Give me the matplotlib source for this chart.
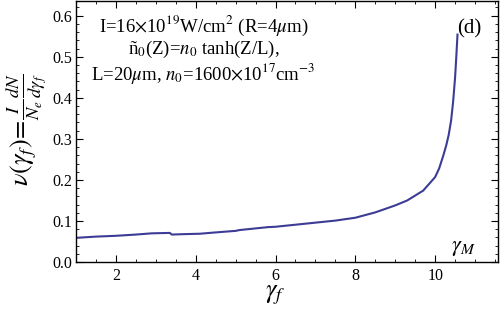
#!/usr/bin/env python3
"""
Electron energy spectrum nu(gamma_f), panel (d).
"""

import matplotlib.pyplot as plt
from matplotlib.ticker import MultipleLocator

# Curve
gamma_f = [1.0, 1.5, 2.0, 2.5, 2.9, 3.35, 3.4, 3.7, 4.1, 4.6, 5.0, 5.1,
           5.5, 5.8, 6.0, 6.6, 7.0, 7.5, 8.0, 8.5, 9.0, 9.3, 9.7, 10.0,
           10.1, 10.2, 10.28, 10.34, 10.4, 10.45, 10.5, 10.53, 10.56]
nu = [0.059, 0.062, 0.064, 0.067, 0.070, 0.071, 0.067, 0.068, 0.069, 0.073,
      0.076, 0.078, 0.082, 0.085, 0.086, 0.092, 0.096, 0.101, 0.108, 0.121,
      0.138, 0.150, 0.174, 0.207, 0.228, 0.258, 0.285, 0.310, 0.345, 0.390,
      0.450, 0.500, 0.554]

x_ticks = [2, 4, 6, 8, 10]
y_ticks = [0.0, 0.1, 0.2, 0.3, 0.4, 0.5, 0.6]

plt.rcParams.update({
    'font.family': 'serif',
    'font.serif': ['Liberation Serif', 'DejaVu Serif'],
    'mathtext.fontset': 'stix',
    'font.size': 11,
    'xtick.direction': 'in',
    'ytick.direction': 'in',
    'xtick.top': True,
    'ytick.right': True,
})

fig = plt.figure(figsize=(5.0, 3.12), dpi=100)
ax = fig.add_axes([0.152, 0.160, 0.844, 0.838])

ax.plot(gamma_f, nu, color='#3c3c96', linewidth=1.5)

ax.set_xlim(1.0, 11.575)
ax.set_ylim(0.0, 0.6366)
ax.set_xticks(x_ticks)
ax.set_yticks(y_ticks)
ax.set_yticklabels([f'{v:.1f}' for v in y_ticks])
ax.xaxis.set_minor_locator(MultipleLocator(0.5))
ax.yaxis.set_minor_locator(MultipleLocator(0.02))
ax.tick_params(which='major', length=5, width=0.8, labelsize=11.5, pad=4)
ax.tick_params(axis='y', which='major', pad=3)
ax.tick_params(which='minor', length=2.5, width=0.6)
for s in ax.spines.values():
    s.set_linewidth(1.0)

# Axis labels placed by hand, like the Mathematica frame labels
fig.text(0.55, 0.052, r'$\gamma_f$', fontsize=19, ha='center', va='center')
fig.text(0.052, 0.586,
         r'$\nu(\gamma_f)\!=\!\frac{I}{N_e}\frac{dN}{d\gamma_f}$',
         fontsize=19, rotation=90, ha='center', va='center')

# Annotation block
ax.text(0.302, 0.905, r'I=16$\times$10$^{19}$W/cm$^2$ (R=4$\mu$m)',
        transform=ax.transAxes, fontsize=13.5, ha='center', va='center')
ax.text(0.302, 0.812, r'ñ$_0$(Z)=$n_0$ tanh(Z/L),',
        transform=ax.transAxes, fontsize=13.5, ha='center', va='center')
ax.text(0.302, 0.720,
        r'L=20$\mu$m, $n_0$=1600$\times$10$^{17}$cm$^{-3}$',
        transform=ax.transAxes, fontsize=13.5, ha='center', va='center')

ax.text(0.933, 0.893, '(d)', transform=ax.transAxes, fontsize=15,
        ha='center', va='center')
ax.text(0.918, 0.053, r'$\gamma_M$', transform=ax.transAxes, fontsize=16,
        ha='center', va='center')

fig.savefig('out.png', dpi=100)
plt.close(fig)
